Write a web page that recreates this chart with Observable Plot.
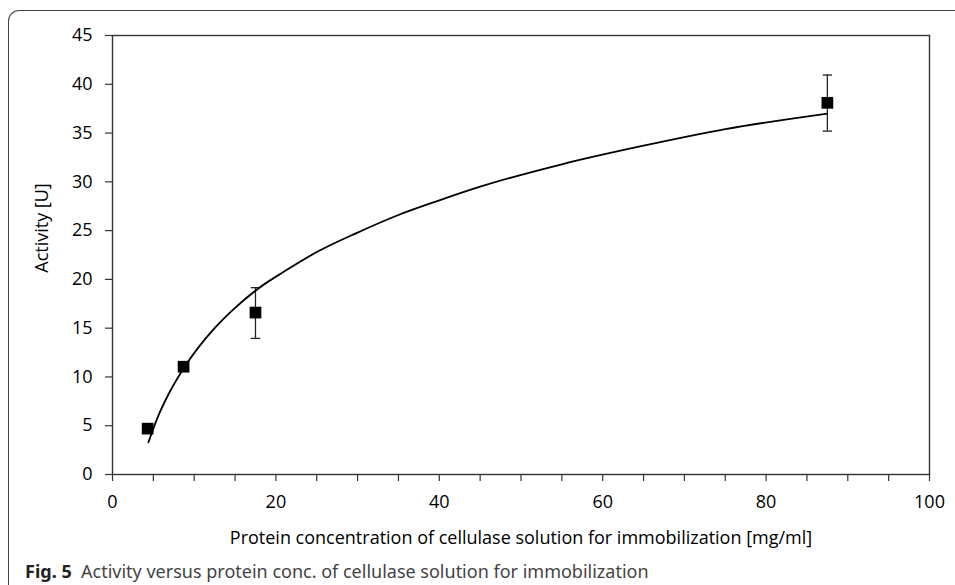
<!DOCTYPE html>
<html>
<head>
<meta charset="utf-8">
<script src="https://cdn.jsdelivr.net/npm/d3@7"></script>
<script src="https://cdn.jsdelivr.net/npm/@observablehq/plot@0.6"></script>
<style>
  body { margin: 0; background: #fff; overflow: hidden; }
  #wrap { position: relative; width: 955px; height: 585px; }
  #border {
    position: absolute; left: 8px; top: 10px; width: 980px; height: 600px;
    border-top: 1.5px solid #444; border-left: 1.5px solid #444;
    border-top-left-radius: 11px;
  }
  #chart { position: absolute; left: 0; top: 0; }
  #caption {
    position: absolute; left: 25px; top: 559px;
    font-family: "Noto Sans", sans-serif; font-size: 18px; line-height: 24px; color: #444;
    white-space: nowrap;
  }
  #caption b { color: #222; }
</style>
</head>
<body>
<div id="wrap">
  <div id="border"></div>
  <div id="chart"></div>
  <div id="caption"><b>Fig. 5</b>&nbsp; Activity versus protein conc. of cellulase solution for immobilization</div>
</div>
<script>
// measured points (mean activity and error bar ends)
const conc = [4.3, 8.7, 17.5, 87.5];
const activity = [4.7, 11.05, 16.6, 38.1];
const errLow = [4.7, 11.05, 13.95, 35.2];
const errHigh = [4.7, 11.05, 19.15, 40.95];

// log trend line
const curveX = [4.4, 5.5, 6.9, 8.8, 10.4, 12.5, 14.9, 17.9, 21, 25, 30, 35, 40, 45, 55, 65, 75, 87.5];
const curveY = [3.3, 5.8, 8.3, 11.0, 12.9, 15.0, 17.0, 19.1, 20.8, 22.8, 24.8, 26.6, 28.1, 29.5, 31.8, 33.7, 35.4, 37.0];

const xTicks = [0, 5, 10, 15, 20, 25, 30, 35, 40, 45, 50, 55, 60, 65, 70, 75, 80, 85, 90, 95, 100];
const yTicks = [0, 5, 10, 15, 20, 25, 30, 35, 40, 45];

const points = conc.map((c, i) => ({x: c, y: activity[i], lo: errLow[i], hi: errHigh[i]}));
const bars = points.filter(d => d.hi > d.lo);
const trend = curveX.map((c, i) => ({x: c, y: curveY[i]}));

// flat cap for the error bars
const capSymbol = {
  draw(ctx, size) {
    const w = 4.7;
    ctx.moveTo(-w, 0);
    ctx.lineTo(w, 0);
  }
};

const font = "Open Sans, sans-serif";

let chart = Plot.plot({
  width: 955,
  height: 555,
  marginLeft: 112,
  marginRight: 26,
  marginTop: 35,
  marginBottom: 81,
  style: {fontFamily: font, fontSize: "18px", color: "#000", background: "transparent"},
  x: {domain: [0, 100]},
  y: {domain: [0, 45]},
  marks: [
    Plot.frame({stroke: "#333", strokeWidth: 1.4}),
    Plot.axisX({
      ticks: xTicks,
      tickFormat: d => d % 20 === 0 ? d : "",
      tickSize: 7,
      tickPadding: 14,
      label: null,
      fontSize: 18,
      stroke: "#333",
      strokeWidth: 1.2
    }),
    Plot.axisY({
      ticks: yTicks,
      tickSize: 7,
      tickPadding: 13,
      label: null,
      fontSize: 18,
      stroke: "#333",
      strokeWidth: 1.2
    }),
    Plot.text(["Protein concentration of cellulase solution for immobilization [mg/ml]"], {
      frameAnchor: "bottom", dy: 64, lineAnchor: "middle", fontSize: 18, fill: "#000"
    }),
    Plot.text(["Activity [U]"], {
      frameAnchor: "left", textAnchor: "middle", dx: -70, dy: -27, rotate: -90,
      lineAnchor: "middle", fontSize: 18, fill: "#000"
    }),
    Plot.ruleX(bars, {x: "x", y1: "lo", y2: "hi", stroke: "#222", strokeWidth: 1.3}),
    Plot.dot(bars, {x: "x", y: "lo", symbol: capSymbol, stroke: "#222", strokeWidth: 1.3, fill: "none"}),
    Plot.dot(bars, {x: "x", y: "hi", symbol: capSymbol, stroke: "#222", strokeWidth: 1.3, fill: "none"}),
    Plot.line(trend, {x: "x", y: "y", curve: "monotone-x", stroke: "#000", strokeWidth: 1.8}),
    Plot.dot(points, {x: "x", y: "y", symbol: "square", r: 6.6, fill: "#000", stroke: "none"})
  ]
});

d3.select("#chart").append(() => chart);
</script>
</body>
</html>
